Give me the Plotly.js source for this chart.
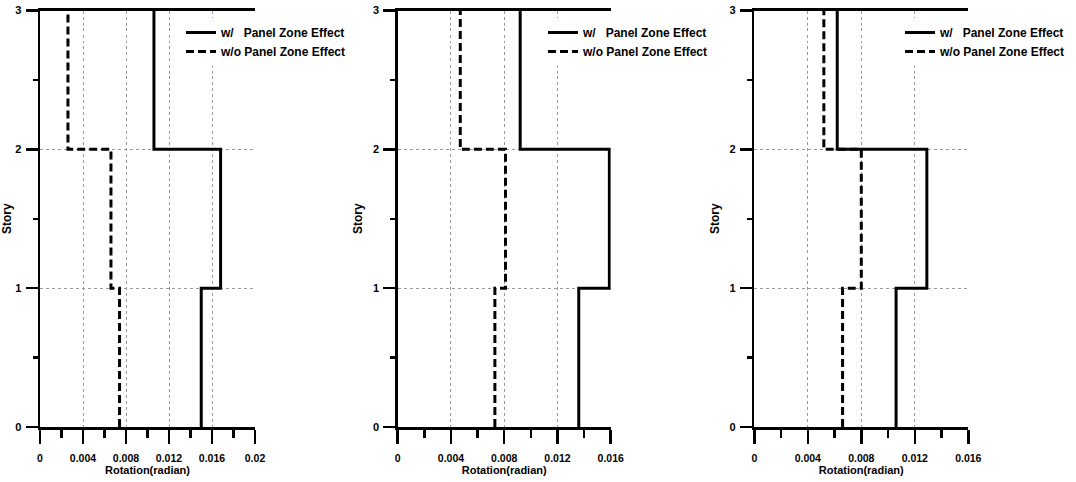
<!DOCTYPE html>
<html>
<head>
<meta charset="utf-8">
<script src="https://cdn.plot.ly/plotly-3.0.1.min.js"></script>
<style>html,body{margin:0;padding:0;background:#fff;}#chart{width:1076px;height:482px;}</style>
</head>
<body>
<div id="chart"></div>
<script>
// Story levels (segment boundaries)
const stories = [0, 1, 2, 3];
// Rotation (radian) per story segment (story 0-1, 1-2, 2-3)
const p1With    = [0.0150, 0.0168, 0.0106];
const p1Without = [0.0074, 0.0066, 0.0026];
const p2With    = [0.0136, 0.0159, 0.0092];
const p2Without = [0.0073, 0.0081, 0.0047];
const p3With    = [0.0106, 0.0129, 0.0062];
const p3Without = [0.0066, 0.0080, 0.0052];
const xMax = [0.02, 0.016, 0.016];
const xTickVals = [[0, 0.004, 0.008, 0.012, 0.016, 0.02], [0, 0.004, 0.008, 0.012, 0.016], [0, 0.004, 0.008, 0.012, 0.016]];
const xTickText = [["0", "0.004", "0.008", "0.012", "0.016", "0.02"], ["0", "0.004", "0.008", "0.012", "0.016"], ["0", "0.004", "0.008", "0.012", "0.016"]];
const yTickVals = [0, 1, 2, 3];
const legendWith = "w/\u00A0\u00A0 Panel Zone Effect";
const legendWithout = "w/o Panel Zone Effect";
const xTitle = "Rotation(radian)";
const yTitle = "Story";

function stepXY(vals) {
  const x = [], y = [];
  for (let i = 0; i < vals.length; i++) {
    x.push(vals[i], vals[i]);
    y.push(stories[i], stories[i + 1]);
  }
  return {x, y};
}

const fam = "Liberation Sans, Arial, sans-serif";
const panels = [[p1With, p1Without], [p2With, p2Without], [p3With, p3Without]];
const traces = [];
panels.forEach((p, i) => {
  const sfx = i === 0 ? '' : String(i + 1);
  const a = stepXY(p[0]), b = stepXY(p[1]);
  traces.push({x: a.x, y: a.y, mode: 'lines', name: legendWith, xaxis: 'x' + sfx, yaxis: 'y' + sfx,
    legend: 'legend' + sfx, line: {color: '#000', width: 3}});
  traces.push({x: b.x, y: b.y, mode: 'lines', name: legendWithout, xaxis: 'x' + sfx, yaxis: 'y' + sfx,
    legend: 'legend' + sfx, line: {color: '#000', width: 3, dash: '8px,4px'}});
});

const W = 1076, H = 482;
const xDomPx = [[40, 255], [397.7, 610.7], [754.3, 968.3]];
const yDom = [1 - 427 / H, 1 - 10.5 / H];
const legendLeft = [181, 543, 900];

const layout = {
  width: W, height: H, margin: {l: 0, r: 0, t: 0, b: 0},
  paper_bgcolor: '#fff', plot_bgcolor: '#fff', showlegend: true,
  font: {family: fam, size: 11, color: '#000', weight: 'bold'}
};
for (let i = 0; i < 3; i++) {
  const sfx = i === 0 ? '' : String(i + 1);
  layout['xaxis' + sfx] = {
    domain: [xDomPx[i][0] / W, xDomPx[i][1] / W], anchor: 'y' + sfx, range: [0, xMax[i]],
    tickvals: xTickVals[i], ticktext: xTickText[i], ticks: 'outside', ticklen: 14, tickwidth: 2.5, tickcolor: '#000',
    minor: {dtick: 0.002, tick0: 0, ticks: 'outside', ticklen: 8, tickwidth: 2.5, tickcolor: '#000', showgrid: false},
    showline: true, linewidth: 2.5, linecolor: '#000', mirror: true, zeroline: false,
    showgrid: true, gridcolor: '#9a9a9a', gridwidth: 1, griddash: 'dot',
    tickfont: {family: fam, size: 10.5, weight: 'bold'}, ticklabelstandoff: 6,
    title: {text: xTitle, font: {family: fam, size: 11, weight: 'bold'}, standoff: 1},
    automargin: false, fixedrange: true
  };
  layout['yaxis' + sfx] = {
    domain: yDom, anchor: 'x' + sfx, range: [0, 3],
    tickvals: yTickVals, ticks: 'outside', ticklen: 12, tickwidth: 2.5, tickcolor: '#000',
    minor: {dtick: 0.5, tick0: 0, ticks: 'outside', ticklen: 5, tickwidth: 2.5, tickcolor: '#000', showgrid: false},
    showline: true, linewidth: 2.5, linecolor: '#000', mirror: false, zeroline: false,
    showgrid: true, gridcolor: '#9a9a9a', gridwidth: 1, griddash: 'dot',
    tickfont: {family: fam, size: 11, weight: 'bold'}, ticklabelstandoff: 2,
    title: {text: yTitle, font: {family: fam, size: 12, weight: 'bold'}, standoff: 8},
    automargin: false, fixedrange: true
  };
  layout['legend' + sfx] = {
    x: legendLeft[i] / W, y: 1 - 18 / H, xanchor: 'left', yanchor: 'top',
    bgcolor: '#fff', borderwidth: 0, font: {family: fam, size: 12, weight: 'bold', color: '#000'},
    tracegroupgap: 0
  };
}

Plotly.newPlot('chart', traces, layout, {displayModeBar: false, staticPlot: true});
</script>
</body>
</html>
